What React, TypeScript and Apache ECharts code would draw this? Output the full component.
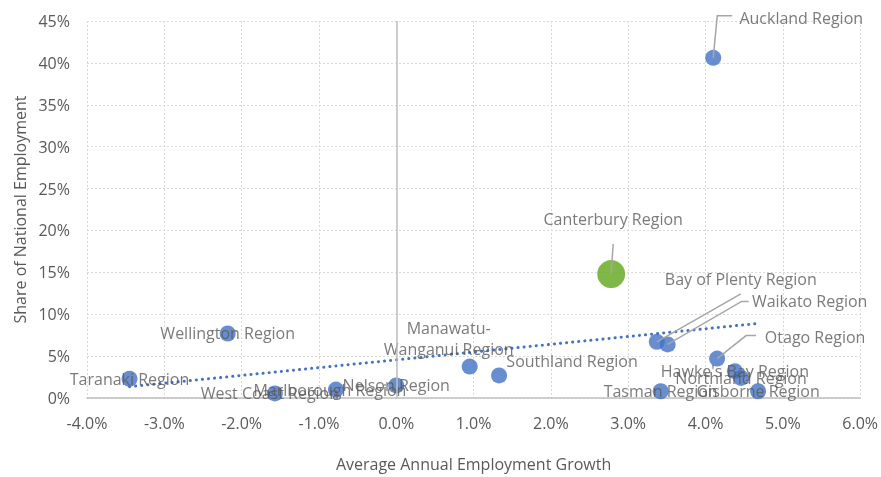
import React, { useEffect, useRef } from "react";
import * as echarts from "echarts";

const regions = [
  "Auckland Region",
  "Wellington Region",
  "Taranaki Region",
  "West Coast Region",
  "Marlborough Region",
  "Nelson Region",
  "Manawatu-\nWanganui Region",
  "Southland Region",
  "Bay of Plenty Region",
  "Waikato Region",
  "Otago Region",
  "Hawke's Bay Region",
  "Northland Region",
  "Tasman Region",
  "Gisborne Region",
];
const growth = [4.1, -2.18, -3.45, -1.57, -0.78, 0.0, 0.95, 1.33, 3.37, 3.51, 4.15, 4.38, 4.46, 3.42, 4.68];
const share = [40.6, 7.7, 2.3, 0.55, 1.0, 1.5, 3.75, 2.7, 6.7, 6.4, 4.7, 3.2, 2.4, 0.8, 0.8];

const highlightName = "Canterbury Region";
const highlightGrowth = 2.78;
const highlightShare = 14.8;

const trendGrowth = [-3.45, 4.68];
const trendShare = [1.35, 8.9];

const xTicks = { min: -4, max: 6, interval: 1 };
const yTicks = { min: 0, max: 45, interval: 5 };

// label offsets in px from the marker centre
const labelOffsets: Record<string, [number, number]> = {
  "Auckland Region": [88, -40],
  "Bay of Plenty Region": [84, -63],
  "Waikato Region": [142, -43],
  "Otago Region": [98, -22],
  "Manawatu-\nWanganui Region": [-21, -28],
  "Southland Region": [73, -14],
  "West Coast Region": [-5, 0],
  "Marlborough Region": [-6, 0],
};
// leader line bend points, px offsets from the marker centre
const leaders: Record<string, number[][]> = {
  "Auckland Region": [[4, -42], [19, -42]],
  "Bay of Plenty Region": [[84, -48]],
  "Waikato Region": [[74, -43], [81, -43]],
  "Otago Region": [[29, -23], [39, -23]],
  "Canterbury Region": [[2, -30]],
};

const FONT = "Open Sans";
const FS = 16;
const TXT = "#595959";

export default function App() {
  const ref = useRef<HTMLDivElement>(null);
  useEffect(() => {
    if (!ref.current) return;
    const chart = echarts.init(ref.current, null, { renderer: "svg" });
    const blueData = regions.map((n, i) => ({ name: n, value: [growth[i], share[i]] }));
    chart.setOption({
      animation: false,
      textStyle: { fontFamily: FONT },
      grid: { left: 87, right: 19, top: 21, bottom: 76, containLabel: false },
      xAxis: {
        type: "value",
        min: xTicks.min,
        max: xTicks.max,
        interval: xTicks.interval,
        name: "Average Annual Employment Growth",
        nameLocation: "middle",
        nameGap: 58,
        nameTextStyle: { color: TXT, fontSize: FS, fontFamily: FONT },
        axisLine: { onZero: false, lineStyle: { color: "#bfbfbf", width: 1.5 } },
        axisTick: { show: false },
        axisLabel: {
          color: TXT,
          fontSize: FS,
          fontFamily: FONT,
          margin: 17,
          formatter: (v: number) => v.toFixed(1) + "%",
        },
        splitLine: { show: true, lineStyle: { color: "#d9d9d9", type: [2, 2] } },
      },
      yAxis: {
        type: "value",
        min: yTicks.min,
        max: yTicks.max,
        interval: yTicks.interval,
        name: "Share of National Employment",
        nameLocation: "middle",
        nameGap: 59,
        nameTextStyle: { color: TXT, fontSize: FS, fontFamily: FONT },
        axisLine: { show: false, onZero: false },
        axisTick: { show: false },
        axisLabel: {
          color: TXT,
          fontSize: FS,
          fontFamily: FONT,
          margin: 17,
          formatter: (v: number) => v + "%",
        },
        splitLine: { show: true, lineStyle: { color: "#d9d9d9", type: [2, 2] } },
      },
      series: [
        {
          type: "line",
          data: trendGrowth.map((g, i) => [g, trendShare[i]]),
          symbol: "none",
          lineStyle: { color: "#4472C4", width: 3, type: [0.1, 6], cap: "round" },
          z: 3,
          silent: true,
          markLine: {
            silent: true,
            symbol: "none",
            label: { show: false },
            lineStyle: { color: "#bfbfbf", width: 1.5, type: "solid" },
            data: [{ xAxis: 0 }],
          },
        },
        {
          type: "scatter",
          symbolSize: 16,
          itemStyle: { color: "#4472C4" },
          data: blueData,
          z: 4,
          label: {
            show: true,
            position: "inside",
            formatter: (p: any) => p.name,
            color: TXT,
            fontSize: FS,
            fontFamily: FONT,
            lineHeight: 21,
          },
          labelLayout: (p: any) => {
            const o = labelOffsets[regions[p.dataIndex]];
            return o ? { dx: o[0], dy: o[1] } : {};
          },
        },
        {
          type: "scatter",
          symbolSize: 28,
          itemStyle: { color: "#5FA619" },
          data: [{ name: highlightName, value: [highlightGrowth, highlightShare] }],
          z: 4,
          label: {
            show: true,
            position: "inside",
            formatter: (p: any) => p.name,
            color: TXT,
            fontSize: FS,
            fontFamily: FONT,
          },
          labelLayout: () => ({ dx: 2, dy: -55 }),
        },
      ],
    });

    const pointFor = (name: string): number[] | null => {
      if (name === highlightName) return [highlightGrowth, highlightShare];
      const i = regions.indexOf(name);
      return i >= 0 ? [growth[i], share[i]] : null;
    };
    const graphics = Object.keys(leaders).map((name) => {
      const v = pointFor(name)!;
      const c = chart.convertToPixel({ gridIndex: 0 }, v) as number[];
      const pts = [c, ...leaders[name].map((d) => [c[0] + d[0], c[1] + d[1]])];
      return {
        type: "polyline",
        z: 100,
        shape: { points: pts },
        style: { stroke: "#a6a6a6", lineWidth: 1.5, fill: null },
        silent: true,
      };
    });
    chart.setOption({ graphic: graphics });
    return () => chart.dispose();
  }, []);
  return (
    <div
      ref={ref}
      style={{ width: 881, height: 477, position: "fixed", left: 0, top: 0 }}
    />
  );
}
